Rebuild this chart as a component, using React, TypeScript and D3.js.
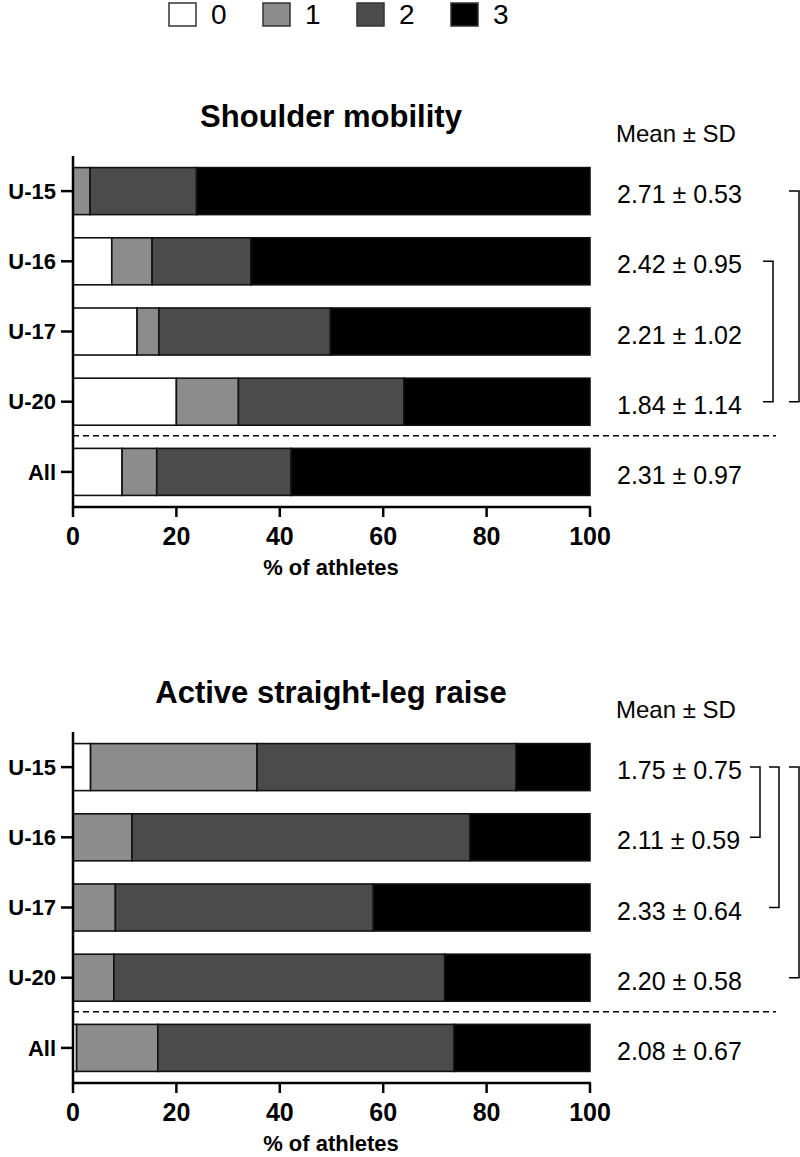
import React from "react";
import * as d3 from "d3";

const categories = ["U-15", "U-16", "U-17", "U-20", "All"];
const scoreKeys = ["0", "1", "2", "3"];
const scoreColors = ["#ffffff", "#8c8c8c", "#4b4b4b", "#000000"];
const xTicks = [0, 20, 40, 60, 80, 100];

const shoulder0 = [0, 7.5, 12.4, 20.0, 9.5];
const shoulder1 = [3.3, 7.8, 4.2, 12.0, 6.7];
const shoulder2 = [20.6, 19.1, 33.2, 32.0, 26.0];
const shoulder3 = [76.1, 65.6, 50.2, 36.0, 57.8];
const shoulderMeans = ["2.71 ± 0.53", "2.42 ± 0.95", "2.21 ± 1.02", "1.84 ± 1.14", "2.31 ± 0.97"];
const shoulderBrackets = [
  [1, 3, 1],
  [0, 3, 2],
];

const aslr0 = [3.4, 0, 0, 0, 0.7];
const aslr1 = [32.2, 11.4, 8.2, 7.9, 15.7];
const aslr2 = [50.1, 65.4, 49.9, 64.0, 57.3];
const aslr3 = [14.3, 23.2, 41.9, 28.1, 26.3];
const aslrMeans = ["1.75 ± 0.75", "2.11 ± 0.59", "2.33 ± 0.64", "2.20 ± 0.58", "2.08 ± 0.67"];
const aslrBrackets = [
  [0, 1, 0],
  [0, 2, 1],
  [0, 3, 2],
];

const FONT = "'Liberation Sans', Arial, Helvetica, sans-serif";

function Panel({ offsetY, title, series, means, brackets, bracketX }) {
  const rows = categories.map((c, i) => {
    const r: any = { cat: c };
    scoreKeys.forEach((k, j) => (r[k] = series[j][i]));
    return r;
  });
  const stacked = d3.stack().keys(scoreKeys)(rows);
  const x = d3.scaleLinear().domain([0, 100]).range([73, 590]);
  const y = d3
    .scaleBand()
    .domain(categories)
    .range([156 + offsetY, 507 + offsetY])
    .paddingInner(0.33)
    .paddingOuter(0.165);
  const bw = y.bandwidth();
  const yAxisTop = 156 + offsetY;
  const yAxisBottom = 507 + offsetY;
  const dashY = ((y("U-20") as number) + bw + (y("All") as number)) / 2 - 1;
  const cy = (c) => (y(c) as number) + bw / 2;
  return (
    <g>
      <text
        x={331}
        y={127 + offsetY}
        textAnchor="middle"
        fontFamily={FONT}
        fontWeight="bold"
        fontSize={31}
      >
        {title}
      </text>
      <text x={616} y={142 + offsetY} fontFamily={FONT} fontSize={24}>
        Mean ± SD
      </text>
      {stacked.map((layer, li) => (
        <g key={li}>
          {layer.map((d, i) => (
            <rect
              key={i}
              x={x(d[0])}
              y={y(categories[i])}
              width={Math.max(0, x(d[1]) - x(d[0]))}
              height={bw}
              fill={scoreColors[li]}
              stroke="#111"
              strokeWidth={1.6}
            />
          ))}
        </g>
      ))}
      <line
        x1={73}
        x2={776}
        y1={dashY}
        y2={dashY}
        stroke="#000"
        strokeWidth={1.4}
        strokeDasharray="6,4"
      />
      <line x1={73} x2={73} y1={yAxisTop} y2={yAxisBottom + 1} stroke="#000" strokeWidth={2.5} />
      {categories.map((c) => (
        <g key={c}>
          <line x1={61} x2={73} y1={cy(c)} y2={cy(c)} stroke="#000" strokeWidth={2.5} />
          <text
            x={56}
            y={cy(c)}
            dy="0.35em"
            textAnchor="end"
            fontFamily={FONT}
            fontWeight="bold"
            fontSize={22}
          >
            {c}
          </text>
        </g>
      ))}
      <line x1={72} x2={591} y1={yAxisBottom} y2={yAxisBottom} stroke="#000" strokeWidth={2.5} />
      {xTicks.map((t) => (
        <g key={t}>
          <line x1={x(t)} x2={x(t)} y1={yAxisBottom} y2={yAxisBottom + 10} stroke="#000" strokeWidth={2.5} />
          <text
            x={x(t)}
            y={yAxisBottom + 38}
            textAnchor="middle"
            fontFamily={FONT}
            fontWeight="bold"
            fontSize={25}
          >
            {t}
          </text>
        </g>
      ))}
      <text
        x={331}
        y={yAxisBottom + 68}
        textAnchor="middle"
        fontFamily={FONT}
        fontWeight="bold"
        fontSize={22}
      >
        % of athletes
      </text>
      {means.map((m, i) => (
        <text
          key={i}
          x={617}
          y={cy(categories[i]) + 12}
          fontFamily={FONT}
          fontSize={25}
        >
          {m}
        </text>
      ))}
      {brackets.map(([a, b, lvl], i) => {
        const xr = bracketX[lvl];
        const y1 = cy(categories[a]);
        const y2 = cy(categories[b]);
        return (
          <path
            key={i}
            d={`M${xr - 10},${y1}H${xr}V${y2}H${xr - 10}`}
            fill="none"
            stroke="#000"
            strokeWidth={1.5}
          />
        );
      })}
    </g>
  );
}

export default function App() {
  return (
    <svg
      width={800}
      height={1157}
      style={{ position: "absolute", left: 0, top: 0, background: "#fff" }}
    >
      <rect width={800} height={1157} fill="#fff" />
      {scoreKeys.map((k, i) => (
        <g key={k}>
          <rect
            x={169 + i * 94}
            y={3}
            width={27}
            height={23}
            fill={scoreColors[i]}
            stroke="#333"
            strokeWidth={1.5}
          />
          <text x={211 + i * 94} y={24} fontFamily={FONT} fontSize={28}>
            {k}
          </text>
        </g>
      ))}
      <Panel
        offsetY={0}
        title="Shoulder mobility"
        series={[shoulder0, shoulder1, shoulder2, shoulder3]}
        means={shoulderMeans}
        brackets={shoulderBrackets}
        bracketX={[760, 773, 799]}
      />
      <Panel
        offsetY={576}
        title="Active straight-leg raise"
        series={[aslr0, aslr1, aslr2, aslr3]}
        means={aslrMeans}
        brackets={aslrBrackets}
        bracketX={[760, 779, 799]}
      />
    </svg>
  );
}
